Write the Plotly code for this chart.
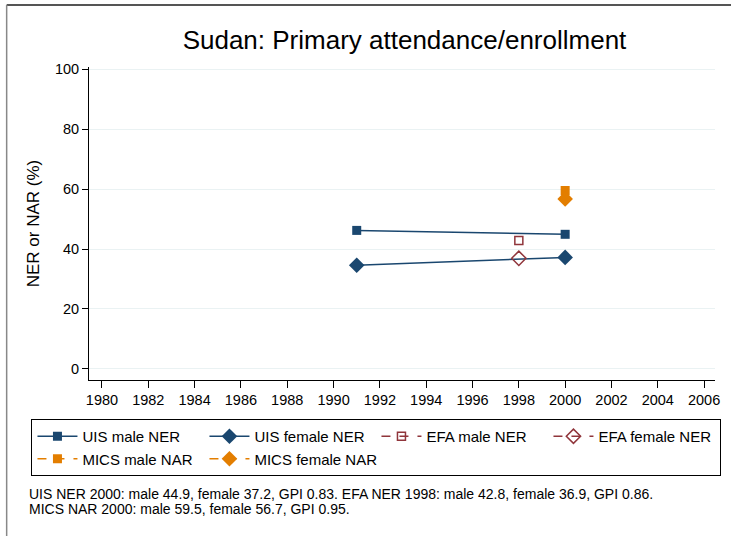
import plotly.graph_objects as go

# data
uis_years = [1991, 2000]
uis_male = [46.2, 44.9]
uis_female = [34.6, 37.2]

efa_years = [1998]
efa_male = [42.8]
efa_female = [36.9]

mics_years = [2000]
mics_male = [59.5]
mics_female = [56.7]

x_ticks = list(range(1980, 2007, 2))
y_ticks = [0, 20, 40, 60, 80, 100]

note_lines = [
    "UIS NER 2000: male 44.9, female 37.2, GPI 0.83. EFA NER 1998: male 42.8, female 36.9, GPI 0.86.",
    "MICS NAR 2000: male 59.5, female 56.7, GPI 0.95.",
]

NAVY = "#1a476f"
MAROON = "#90353b"
ORANGE = "#e37e00"
FONT = "Liberation Sans, Arial, sans-serif"

fig = go.Figure()

fig.add_trace(go.Scatter(x=uis_years, y=uis_male, name="UIS male NER", mode="lines+markers",
                         line=dict(color=NAVY, width=1.5),
                         marker=dict(symbol="square", size=9, color=NAVY)))
fig.add_trace(go.Scatter(x=uis_years, y=uis_female, name="UIS female NER", mode="lines+markers",
                         line=dict(color=NAVY, width=1.5),
                         marker=dict(symbol="diamond", size=12, color=NAVY)))
fig.add_trace(go.Scatter(x=efa_years, y=efa_male, name="EFA male NER", mode="lines+markers",
                         line=dict(color=MAROON, width=1.5, dash="dash"),
                         marker=dict(symbol="square-open", size=8, color=MAROON, line=dict(width=1.5))))
fig.add_trace(go.Scatter(x=efa_years, y=efa_female, name="EFA female NER", mode="lines+markers",
                         line=dict(color=MAROON, width=1.5, dash="dash"),
                         marker=dict(symbol="diamond-open", size=11, color=MAROON, line=dict(width=1.5))))
fig.add_trace(go.Scatter(x=mics_years, y=mics_male, name="MICS male NAR", mode="lines+markers",
                         line=dict(color=ORANGE, width=1.5, dash="dash"),
                         marker=dict(symbol="square", size=9, color=ORANGE)))
fig.add_trace(go.Scatter(x=mics_years, y=mics_female, name="MICS female NAR", mode="lines+markers",
                         line=dict(color=ORANGE, width=1.5, dash="dash"),
                         marker=dict(symbol="diamond", size=12, color=ORANGE)))

# plot area: x 89..720 px, y 67..380 px
L, R, T, B = 89, 720, 67, 380
W, H = 731, 536
pw, ph = R - L, B - T

def px(x):
    return (x - L) / pw

def py(y):
    return (B - y) / ph

fig.update_layout(
    width=W, height=H,
    margin=dict(l=L, r=W - R, t=T, b=H - B),
    paper_bgcolor="white", plot_bgcolor="white",
    font=dict(family=FONT, size=14, color="black"),
    title=dict(text="Sudan: Primary attendance/enrollment", x=0.5 * (L + R) / W, xanchor="center",
               y=1 - 40 / H, yanchor="middle", font=dict(size=26, color="black")),
    xaxis=dict(range=[1979.44, 2006.47], tickvals=x_ticks, showgrid=False, zeroline=False,
               showline=True, linecolor="black", linewidth=1, ticks="outside", ticklen=7,
               tickcolor="black", tickfont=dict(size=14.5)),
    yaxis=dict(range=[-3.67, 100.67], tickvals=y_ticks, showgrid=True, gridcolor="#eaf2f3",
               gridwidth=1.2, zeroline=False, showline=True, linecolor="black", linewidth=1,
               ticks="outside", ticklen=6, tickcolor="black", tickfont=dict(size=14.5),
               title=dict(text="NER or NAR (%)", font=dict(size=17), standoff=10)),
    legend=dict(orientation="h", x=px(31), y=py(419), xanchor="left", yanchor="top",
                entrywidth=117, entrywidthmode="pixels", bordercolor="black", borderwidth=1,
                bgcolor="white", font=dict(size=15), traceorder="normal",
                itemwidth=40, tracegroupgap=0),
    showlegend=True,
)

for i, line in enumerate(note_lines):
    fig.add_annotation(text=line, xref="paper", yref="paper", x=px(27), y=py(494 + 15 * i),
                       xanchor="left", yanchor="middle", align="left", showarrow=False,
                       font=dict(size=14, color="black"))

# outer graph frame, only top and left edges visible in the crop
fig.add_shape(type="line", xref="paper", yref="paper", x0=px(6), x1=px(W + 20), y0=py(5), y1=py(5),
              line=dict(color="#555555", width=1.8), layer="below")
fig.add_shape(type="line", xref="paper", yref="paper", x0=px(6), x1=px(6), y0=py(5), y1=py(H + 20),
              line=dict(color="#888888", width=1.5), layer="below")

fig.write_html("out.html", config={"displayModeBar": False},
               post_script="document.body.style.margin='0';document.body.style.overflow='hidden';")
